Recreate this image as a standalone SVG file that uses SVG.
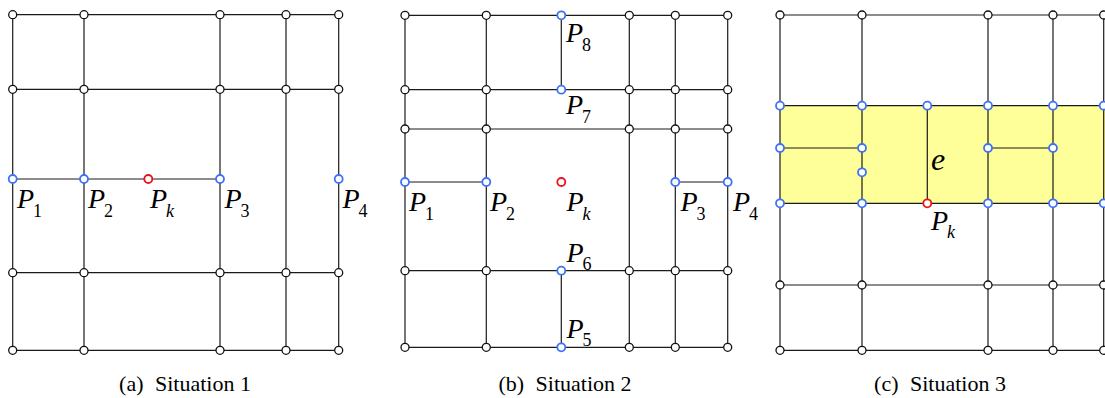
<svg xmlns="http://www.w3.org/2000/svg" width="1105" height="398" viewBox="0 0 1105 398">
<style>
.e{stroke:#1a1a1a;stroke-width:1.2;fill:none}
.n{fill:#fff;stroke:#111;stroke-width:1.3}
.b{fill:#fff;stroke:#3f73f5;stroke-width:1.8}
.r{fill:#fff;stroke:#e8141b;stroke-width:1.8}
</style>
<defs>
<circle id="c" r="4"/>
</defs>
<rect x="780" y="105.7" width="325" height="97.6" fill="#ffff99"/>
<g id="connectors" class="e">
<line x1="12.7" y1="14.7" x2="338.7" y2="14.7"/>
<line x1="12.7" y1="89.3" x2="338.7" y2="89.3"/>
<line x1="12.7" y1="179" x2="220" y2="179"/>
<line x1="12.7" y1="272.7" x2="338.7" y2="272.7"/>
<line x1="12.7" y1="350.3" x2="338.7" y2="350.3"/>
<line x1="12.7" y1="14.7" x2="12.7" y2="350.3"/>
<line x1="84" y1="14.7" x2="84" y2="350.3"/>
<line x1="220" y1="14.7" x2="220" y2="350.3"/>
<line x1="286" y1="14.7" x2="286" y2="350.3"/>
<line x1="338.7" y1="14.7" x2="338.7" y2="350.3"/>
<line x1="405" y1="15.3" x2="727.7" y2="15.3"/>
<line x1="405" y1="89.7" x2="727.7" y2="89.7"/>
<line x1="405" y1="129" x2="727.7" y2="129"/>
<line x1="405" y1="182" x2="486.3" y2="182"/>
<line x1="675.3" y1="182" x2="727.7" y2="182"/>
<line x1="405" y1="270.7" x2="727.7" y2="270.7"/>
<line x1="405" y1="347.3" x2="727.7" y2="347.3"/>
<line x1="405" y1="15.3" x2="405" y2="347.3"/>
<line x1="486.3" y1="15.3" x2="486.3" y2="347.3"/>
<line x1="561.3" y1="15.3" x2="561.3" y2="89.7"/>
<line x1="561.3" y1="270.7" x2="561.3" y2="347.3"/>
<line x1="629.3" y1="15.3" x2="629.3" y2="347.3"/>
<line x1="675.3" y1="15.3" x2="675.3" y2="347.3"/>
<line x1="727.7" y1="15.3" x2="727.7" y2="347.3"/>
<line x1="780" y1="15" x2="1105" y2="15"/>
<line x1="780" y1="105.7" x2="1105" y2="105.7"/>
<line x1="780" y1="148" x2="862" y2="148"/>
<line x1="988" y1="148" x2="1053" y2="148"/>
<line x1="780" y1="203.3" x2="1105" y2="203.3"/>
<line x1="780" y1="285" x2="1105" y2="285"/>
<line x1="780" y1="350.3" x2="1105" y2="350.3"/>
<line x1="780" y1="15" x2="780" y2="350.3"/>
<line x1="862" y1="15" x2="862" y2="350.3"/>
<line x1="927.3" y1="105.7" x2="927.3" y2="203.3"/>
<line x1="988" y1="15" x2="988" y2="350.3"/>
<line x1="1053" y1="15" x2="1053" y2="350.3"/>
<line x1="1103.7" y1="15" x2="1103.7" y2="350.3"/>
</g>
<g font-family="Liberation Serif" fill="#000">
<g id="a-r1"><use href="#c" class="n" x="12.7" y="14.7"/><use href="#c" class="n" x="84" y="14.7"/><use href="#c" class="n" x="220" y="14.7"/><use href="#c" class="n" x="286" y="14.7"/><use href="#c" class="n" x="338.7" y="14.7"/></g>
<g id="a-r2"><use href="#c" class="n" x="12.7" y="89.3"/><use href="#c" class="n" x="84" y="89.3"/><use href="#c" class="n" x="220" y="89.3"/><use href="#c" class="n" x="286" y="89.3"/><use href="#c" class="n" x="338.7" y="89.3"/></g>
<g id="a-r4"><use href="#c" class="n" x="12.7" y="272.7"/><use href="#c" class="n" x="84" y="272.7"/><use href="#c" class="n" x="220" y="272.7"/><use href="#c" class="n" x="286" y="272.7"/><use href="#c" class="n" x="338.7" y="272.7"/></g>
<g id="a-r5"><use href="#c" class="n" x="12.7" y="350.3"/><use href="#c" class="n" x="84" y="350.3"/><use href="#c" class="n" x="220" y="350.3"/><use href="#c" class="n" x="286" y="350.3"/><use href="#c" class="n" x="338.7" y="350.3"/></g>
<g id="a-P1"><use href="#c" class="b" x="12.7" y="179"/><text x="17" y="208" font-family="Liberation Serif" font-size="28" font-style="italic">P<tspan font-size="18" font-style="normal" dx="-1" dy="9">1</tspan></text></g>
<g id="a-P2"><use href="#c" class="b" x="84" y="179"/><text x="88" y="208" font-family="Liberation Serif" font-size="28" font-style="italic">P<tspan font-size="18" font-style="normal" dx="-1" dy="9">2</tspan></text></g>
<g id="a-Pk"><use href="#c" class="r" x="148.3" y="179"/><text x="150" y="208" font-family="Liberation Serif" font-size="28" font-style="italic">P<tspan font-size="18" dx="-1" dy="9">k</tspan></text></g>
<g id="a-P3"><use href="#c" class="b" x="220" y="179"/><text x="224.5" y="208" font-family="Liberation Serif" font-size="28" font-style="italic">P<tspan font-size="18" font-style="normal" dx="-1" dy="9">3</tspan></text></g>
<g id="a-P4"><use href="#c" class="b" x="338.7" y="179"/><text x="342.5" y="208" font-family="Liberation Serif" font-size="28" font-style="italic">P<tspan font-size="18" font-style="normal" dx="-1" dy="9">4</tspan></text></g>
<g id="b-r1"><use href="#c" class="n" x="405" y="15.3"/><use href="#c" class="n" x="486.3" y="15.3"/><use href="#c" class="n" x="629.3" y="15.3"/><use href="#c" class="n" x="675.3" y="15.3"/><use href="#c" class="n" x="727.7" y="15.3"/></g>
<g id="b-P8"><use href="#c" class="b" x="561.3" y="15.3"/><text x="566" y="42" font-family="Liberation Serif" font-size="28" font-style="italic">P<tspan font-size="18" font-style="normal" dx="-1" dy="9">8</tspan></text></g>
<g id="b-r2"><use href="#c" class="n" x="405" y="89.7"/><use href="#c" class="n" x="486.3" y="89.7"/><use href="#c" class="n" x="629.3" y="89.7"/><use href="#c" class="n" x="675.3" y="89.7"/><use href="#c" class="n" x="727.7" y="89.7"/></g>
<g id="b-P7"><use href="#c" class="b" x="561.3" y="89.7"/><text x="566" y="114" font-family="Liberation Serif" font-size="28" font-style="italic">P<tspan font-size="18" font-style="normal" dx="-1" dy="9">7</tspan></text></g>
<g id="b-r3"><use href="#c" class="n" x="405" y="129"/><use href="#c" class="n" x="486.3" y="129"/><use href="#c" class="n" x="629.3" y="129"/><use href="#c" class="n" x="675.3" y="129"/><use href="#c" class="n" x="727.7" y="129"/></g>
<g id="b-P1"><use href="#c" class="b" x="405" y="182"/><text x="409" y="211" font-family="Liberation Serif" font-size="28" font-style="italic">P<tspan font-size="18" font-style="normal" dx="-1" dy="9">1</tspan></text></g>
<g id="b-P2"><use href="#c" class="b" x="486.3" y="182"/><text x="490" y="211" font-family="Liberation Serif" font-size="28" font-style="italic">P<tspan font-size="18" font-style="normal" dx="-1" dy="9">2</tspan></text></g>
<g id="b-Pk"><use href="#c" class="r" x="561.3" y="182"/><text x="566.5" y="211" font-family="Liberation Serif" font-size="28" font-style="italic">P<tspan font-size="18" dx="-1" dy="9">k</tspan></text></g>
<g id="b-P3"><use href="#c" class="b" x="675.3" y="182"/><text x="680.5" y="211" font-family="Liberation Serif" font-size="28" font-style="italic">P<tspan font-size="18" font-style="normal" dx="-1" dy="9">3</tspan></text></g>
<g id="b-P4"><use href="#c" class="b" x="727.7" y="182"/><text x="733" y="211" font-family="Liberation Serif" font-size="28" font-style="italic">P<tspan font-size="18" font-style="normal" dx="-1" dy="9">4</tspan></text></g>
<g id="b-r5"><use href="#c" class="n" x="405" y="270.7"/><use href="#c" class="n" x="486.3" y="270.7"/><use href="#c" class="n" x="629.3" y="270.7"/><use href="#c" class="n" x="675.3" y="270.7"/><use href="#c" class="n" x="727.7" y="270.7"/></g>
<g id="b-P6"><use href="#c" class="b" x="561.3" y="270.7"/><text x="566.5" y="262" font-family="Liberation Serif" font-size="28" font-style="italic">P<tspan font-size="18" font-style="normal" dx="-1" dy="8">6</tspan></text></g>
<g id="b-r6"><use href="#c" class="n" x="405" y="347.3"/><use href="#c" class="n" x="486.3" y="347.3"/><use href="#c" class="n" x="629.3" y="347.3"/><use href="#c" class="n" x="675.3" y="347.3"/><use href="#c" class="n" x="727.7" y="347.3"/></g>
<g id="b-P5"><use href="#c" class="b" x="561.3" y="347.3"/><text x="566.5" y="338" font-family="Liberation Serif" font-size="28" font-style="italic">P<tspan font-size="18" font-style="normal" dx="-1" dy="8">5</tspan></text></g>
<g id="c-r1"><use href="#c" class="n" x="780" y="15"/><use href="#c" class="n" x="862" y="15"/><use href="#c" class="n" x="988" y="15"/><use href="#c" class="n" x="1053" y="15"/><use href="#c" class="n" x="1103.7" y="15"/></g>
<g id="c-top"><use href="#c" class="b" x="780" y="105.7"/><use href="#c" class="b" x="862" y="105.7"/><use href="#c" class="b" x="927.3" y="105.7"/><use href="#c" class="b" x="988" y="105.7"/><use href="#c" class="b" x="1053" y="105.7"/><use href="#c" class="b" x="1103.7" y="105.7"/></g>
<g id="c-mid"><use href="#c" class="b" x="780" y="148"/><use href="#c" class="b" x="862" y="148"/><use href="#c" class="b" x="988" y="148"/><use href="#c" class="b" x="1053" y="148"/><use href="#c" class="b" x="862" y="172.3"/></g>
<g id="c-bot"><use href="#c" class="b" x="780" y="203.3"/><use href="#c" class="b" x="862" y="203.3"/><use href="#c" class="b" x="988" y="203.3"/><use href="#c" class="b" x="1053" y="203.3"/><use href="#c" class="b" x="1103.7" y="203.3"/></g>
<g id="c-Pk"><use href="#c" class="r" x="927.3" y="203.3"/><text x="931" y="229.5" font-family="Liberation Serif" font-size="28" font-style="italic">P<tspan font-size="18" dx="-1" dy="8">k</tspan></text></g>
<g id="c-e"><text x="931" y="170" font-family="Liberation Serif" font-size="32" font-style="italic">e</text></g>
<g id="c-r6"><use href="#c" class="n" x="780" y="285"/><use href="#c" class="n" x="862" y="285"/><use href="#c" class="n" x="988" y="285"/><use href="#c" class="n" x="1053" y="285"/><use href="#c" class="n" x="1103.7" y="285"/></g>
<g id="c-r7"><use href="#c" class="n" x="780" y="350.3"/><use href="#c" class="n" x="862" y="350.3"/><use href="#c" class="n" x="988" y="350.3"/><use href="#c" class="n" x="1053" y="350.3"/><use href="#c" class="n" x="1103.7" y="350.3"/></g>
<text x="185" y="391" font-family="Liberation Serif" font-size="22" text-anchor="middle">(a)<tspan dx="6"> Situation 1</tspan></text>
<text x="565" y="391" font-family="Liberation Serif" font-size="22" text-anchor="middle">(b)<tspan dx="6"> Situation 2</tspan></text>
<text x="940" y="391" font-family="Liberation Serif" font-size="22" text-anchor="middle">(c)<tspan dx="6"> Situation 3</tspan></text>
</g>
</svg>
